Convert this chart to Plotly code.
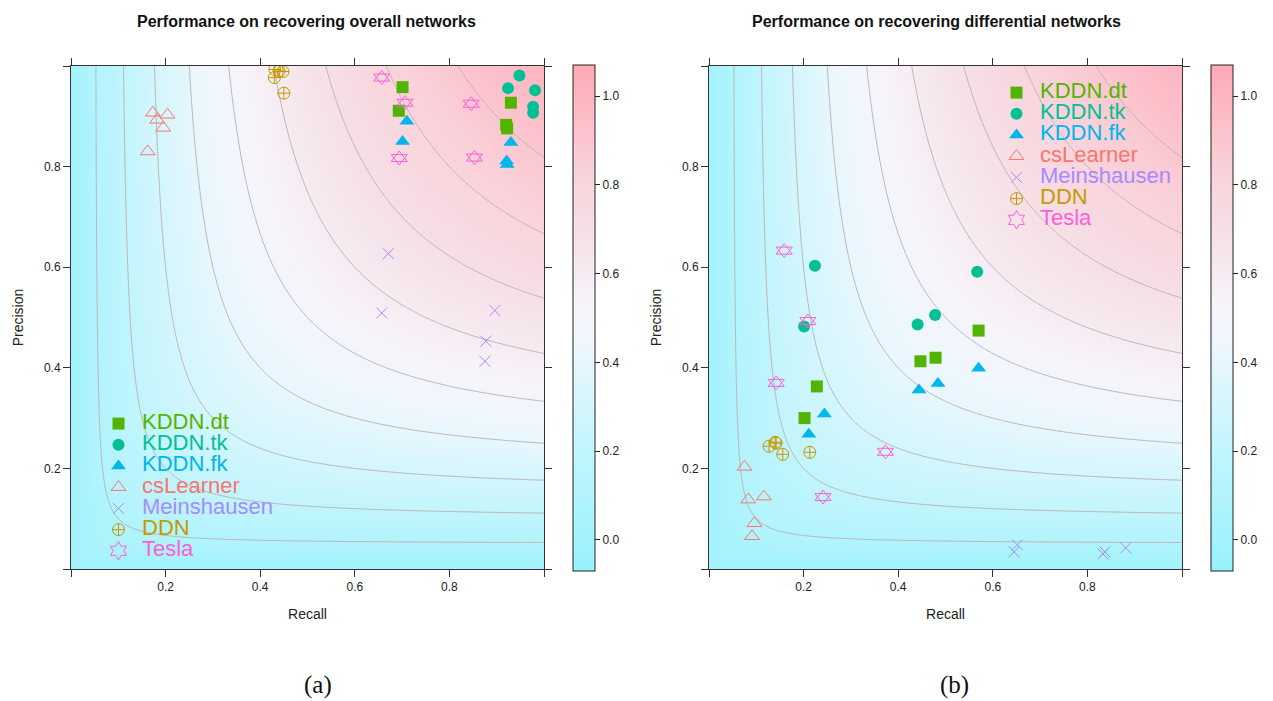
import numpy as np
import plotly.graph_objects as go

# ---------------- data ----------------
methods = ["KDDN.dt", "KDDN.tk", "KDDN.fk", "csLearner", "Meinshausen", "DDN", "Tesla"]
colors = ["#53B400", "#00C094", "#00B6EB", "#F8766D", "#A58AFF", "#C49A00", "#FB61D7"]
symbols = ["square", "circle", "triangle-up", "triangle-up-open", "x-thin-open",
           "circle-cross-open", "hexagram-open"]
sizes = [12, 12, 13, 13, 11, 12, 14]

# (a) overall networks: recall, precision
a_dt_r = [0.701, 0.693, 0.930, 0.920, 0.922]
a_dt_p = [0.958, 0.911, 0.927, 0.883, 0.876]
a_tk_r = [0.948, 0.924, 0.981, 0.977, 0.977]
a_tk_p = [0.981, 0.956, 0.952, 0.919, 0.907]
a_fk_r = [0.710, 0.701, 0.930, 0.921, 0.922]
a_fk_p = [0.890, 0.850, 0.848, 0.811, 0.804]
a_cs_r = [0.173, 0.204, 0.182, 0.195, 0.162]
a_cs_p = [0.907, 0.903, 0.893, 0.877, 0.830]
a_me_r = [0.671, 0.657, 0.896, 0.877, 0.875]
a_me_p = [0.627, 0.509, 0.514, 0.453, 0.413]
a_ddn_r = [0.431, 0.440, 0.448, 0.430, 0.450]
a_ddn_p = [0.993, 0.990, 0.989, 0.977, 0.946]
a_te_r = [0.657, 0.706, 0.846, 0.694, 0.853]
a_te_p = [0.977, 0.927, 0.925, 0.817, 0.818]

# (b) differential networks
b_dt_r = [0.570, 0.447, 0.479, 0.228, 0.202]
b_dt_p = [0.474, 0.413, 0.420, 0.363, 0.300]
b_tk_r = [0.224, 0.567, 0.201, 0.441, 0.478]
b_tk_p = [0.603, 0.591, 0.482, 0.486, 0.505]
b_fk_r = [0.570, 0.484, 0.444, 0.244, 0.211]
b_fk_p = [0.399, 0.369, 0.356, 0.308, 0.268]
b_cs_r = [0.075, 0.083, 0.116, 0.096, 0.091]
b_cs_p = [0.203, 0.138, 0.144, 0.091, 0.065]
b_me_r = [0.652, 0.645, 0.833, 0.837, 0.881]
b_me_p = [0.048, 0.034, 0.030, 0.034, 0.042]
b_ddn_r = [0.140, 0.127, 0.142, 0.156, 0.213]
b_ddn_p = [0.252, 0.244, 0.250, 0.228, 0.232]
b_te_r = [0.159, 0.209, 0.142, 0.373, 0.241]
b_te_p = [0.633, 0.493, 0.370, 0.233, 0.143]

panel_a = [(a_dt_r, a_dt_p), (a_tk_r, a_tk_p), (a_fk_r, a_fk_p), (a_cs_r, a_cs_p),
           (a_me_r, a_me_p), (a_ddn_r, a_ddn_p), (a_te_r, a_te_p)]
panel_b = [(b_dt_r, b_dt_p), (b_tk_r, b_tk_p), (b_fk_r, b_fk_p), (b_cs_r, b_cs_p),
           (b_me_r, b_me_p), (b_ddn_r, b_ddn_p), (b_te_r, b_te_p)]

titles = ["Performance on recovering overall networks",
          "Performance on recovering differential networks"]
captions = ["(a)", "(b)"]
tick_vals = [0.0, 0.2, 0.4, 0.6, 0.8, 1.0]
tick_text = ["", "0.2", "0.4", "0.6", "0.8", ""]
cbar_vals = [0.0, 0.2, 0.4, 0.6, 0.8, 1.0]

# ---------------- F-measure background ----------------
g = np.linspace(0, 1, 201)
R, P = np.meshgrid(g, g)
with np.errstate(invalid="ignore", divide="ignore"):
    F = np.where(R + P > 0, 2 * R * P / (R + P), 0.0)

cscale = [[0.0, "#96F2FC"], [0.25, "#C4F5FD"], [0.45, "#EEF7FD"], [0.53, "#F7F4FB"],
          [0.65, "#F6E2E9"], [0.8, "#FAD0D8"], [1.0, "#FFA9B5"]]

W, H = 1273, 701
FONT = "Liberation Sans, Arial, Helvetica, sans-serif"

fig = go.Figure()

panels = [panel_a, panel_b]
x_dom = [(71, 544), (709, 1182)]
cbar_left = [573, 1211]
legend_pos = [(95, 408), (993, 77)]
title_cx = [306, 936]
cap_cx = [318, 955]

for k in range(2):
    xa = "x" if k == 0 else "x2"
    ya = "y" if k == 0 else "y2"
    fig.add_trace(go.Heatmap(
        x=g, y=g, z=F, xaxis=xa, yaxis=ya, colorscale=cscale, zmin=-0.07, zmax=1.07,
        zsmooth="best", hoverinfo="skip",
        colorbar=dict(x=cbar_left[k] / W, xanchor="left", xref="paper",
                      y=(H - 571) / H, yanchor="bottom", yref="paper",
                      len=506, lenmode="pixels", thickness=22, thicknessmode="pixels",
                      xpad=0, ypad=0, outlinewidth=1, outlinecolor="#222",
                      ticks="outside", ticklen=5, tickcolor="#222",
                      tickvals=cbar_vals, tickformat=".1f",
                      tickfont=dict(family=FONT, size=12, color="#222")),
    ))
    fig.add_trace(go.Contour(
        x=g, y=g, z=F, xaxis=xa, yaxis=ya, showscale=False, hoverinfo="skip",
        contours=dict(start=0.1, end=0.9, size=0.1, coloring="lines", showlabels=False),
        colorscale=[[0, "#BDB6B6"], [1, "#BDB6B6"]], line=dict(width=1, color="#BDB6B6"),
    ))
    leg = "legend" if k == 0 else "legend2"
    for i, (r, p) in enumerate(panels[k]):
        name = '<span style="color:%s;font-size:22px">%s</span>' % (colors[i], methods[i])
        if symbols[i] == "hexagram-open":
            # star of David drawn as an up and a down triangle on each point
            n = len(r)
            fig.add_trace(go.Scatter(
                x=list(r) + list(r), y=list(p) + list(p), xaxis=xa, yaxis=ya,
                mode="markers", showlegend=False, legend=leg,
                marker=dict(symbol=["triangle-up-open"] * n + ["triangle-down-open"] * n,
                            size=sizes[i], color=colors[i],
                            line=dict(width=1, color=colors[i])),
            ))
            # legend entry (no data drawn)
            fig.add_trace(go.Scatter(
                x=[None], y=[None], xaxis=xa, yaxis=ya, mode="markers", name=name,
                legend=leg,
                marker=dict(symbol="hexagram-open", size=14, color=colors[i],
                            line=dict(width=1, color=colors[i])),
            ))
            continue
        open_sym = symbols[i].endswith("open")
        fig.add_trace(go.Scatter(
            x=r, y=p, xaxis=xa, yaxis=ya, mode="markers", name=name, legend=leg,
            marker=dict(symbol=symbols[i], size=sizes[i], color=colors[i],
                        line=dict(width=1 if open_sym else 0, color=colors[i])),
        ))

axis_common = dict(range=[0, 1], tickvals=tick_vals, ticktext=tick_text, ticks="outside",
                   ticklen=7, tickcolor="#333", showline=True, linecolor="#333", linewidth=1,
                   mirror="ticks", showgrid=False, zeroline=False, automargin=False,
                   tickfont=dict(family=FONT, size=12, color="#222"))

layout = dict(width=W, height=H, margin=dict(l=0, r=0, t=0, b=0),
              paper_bgcolor="white", plot_bgcolor="white",
              font=dict(family=FONT, color="#222"))
for k in range(2):
    sfx = "" if k == 0 else "2"
    layout["xaxis" + sfx] = dict(axis_common, domain=[x_dom[k][0] / W, x_dom[k][1] / W],
                                 anchor="y" + sfx,
                                 title=dict(text="Recall", standoff=15,
                                            font=dict(family=FONT, size=14, color="#222")))
    layout["yaxis" + sfx] = dict(axis_common, domain=[(H - 569) / H, (H - 66) / H],
                                 anchor="x" + sfx,
                                 title=dict(text="Precision", standoff=17,
                                            font=dict(family=FONT, size=14, color="#222")))
    lx, ly = legend_pos[k]
    layout["legend" + sfx] = dict(x=lx / W, y=(H - ly) / H, xanchor="left", yanchor="top",
                                  xref="paper", yref="paper", itemwidth=37,
                                  bgcolor="rgba(0,0,0,0)", borderwidth=0,
                                  font=dict(family=FONT, size=14))
fig.update_layout(**layout)

for k in range(2):
    fig.add_annotation(text="<b>%s</b>" % titles[k], x=title_cx[k] / W, y=(H - 22) / H,
                       xref="paper", yref="paper", showarrow=False, xanchor="center",
                       yanchor="middle", font=dict(family=FONT, size=16, color="#111"))
    fig.add_annotation(text=captions[k], x=cap_cx[k] / W, y=(H - 685) / H,
                       xref="paper", yref="paper", showarrow=False, xanchor="center",
                       yanchor="middle", font=dict(family="Liberation Serif, serif", size=25,
                                                   color="#111"))

fig.write_html("out.html")
